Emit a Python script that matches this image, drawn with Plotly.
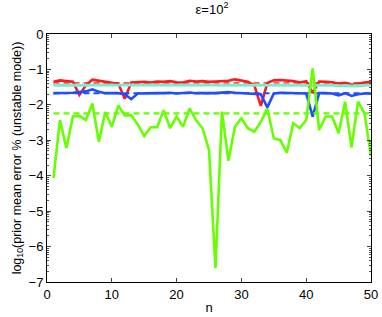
import numpy as np
import plotly.graph_objects as go

n = list(range(1, 51))

green = [-4.07, -2.43, -3.22, -2.33, -2.31, -2.43, -1.96, -3.04, -2.20, -2.62,
         -2.02, -2.30, -2.29, -2.55, -2.88, -2.63, -2.63, -2.15, -2.66, -2.33,
         -2.62, -2.10, -2.43, -2.66, -3.27, -6.61, -2.19, -3.58, -2.62, -2.38,
         -2.66, -2.76, -2.48, -2.10, -2.95, -2.99, -3.35, -2.52, -2.66, -2.43,
         -0.97, -2.71, -2.33, -2.33, -2.80, -1.91, -3.20, -1.91, -2.24, -3.45]

red = [-1.35, -1.31, -1.33, -1.35, -1.72, -1.45, -1.29, -1.32, -1.37, -1.38,
       -1.40, -1.83, -1.37, -1.36, -1.35, -1.37, -1.34, -1.35, -1.33, -1.36,
       -1.37, -1.32, -1.34, -1.33, -1.35, -1.34, -1.33, -1.32, -1.28, -1.31,
       -1.35, -1.45, -2.03, -1.38, -1.31, -1.30, -1.31, -1.33, -1.37, -1.33,
       -1.66, -1.34, -1.35, -1.36, -1.40, -1.38, -1.43, -1.39, -1.37, -1.35]

blue = [-1.67, -1.67, -1.68, -1.66, -1.64, -1.62, -1.56, -1.63, -1.67, -1.67,
        -1.67, -1.70, -1.84, -1.68, -1.67, -1.66, -1.67, -1.67, -1.66, -1.68,
        -1.67, -1.65, -1.67, -1.68, -1.67, -1.67, -1.66, -1.64, -1.66, -1.67,
        -1.68, -1.67, -1.70, -2.07, -1.68, -1.66, -1.66, -1.66, -1.66, -1.68,
        -2.33, -1.67, -1.67, -1.68, -1.73, -1.67, -1.75, -1.70, -1.68, -1.68]

cyan = [-1.45, -1.44, -1.44, -1.44, -1.45, -1.44, -1.43, -1.44, -1.44, -1.45,
        -1.44, -1.44, -1.44, -1.45, -1.44, -1.44, -1.44, -1.45, -1.44, -1.44,
        -1.44, -1.44, -1.44, -1.44, -1.44, -1.45, -1.44, -1.44, -1.43, -1.44,
        -1.44, -1.44, -1.45, -1.45, -1.44, -1.44, -1.44, -1.44, -1.44, -1.44,
        -1.45, -1.44, -1.44, -1.45, -1.46, -1.47, -1.46, -1.47, -1.45, -1.44]

mean_red = -1.38
mean_cyan = -1.44
mean_blue = -1.67
mean_green = -2.24

x_ticks = [0, 10, 20, 30, 40, 50]
y_ticks = [0, -1, -2, -3, -4, -5, -6, -7]
y_ticktext = ["0", "−1", "−2", "−3", "−4", "−5", "−6", "−7"]

C_RED = "#ff1a1a"
C_BLUE = "#1f4dff"
C_CYAN = "#70f0d0"
C_GREEN = "#66ff00"

fig = go.Figure()

def solid(y, c, w=2.6):
    fig.add_trace(go.Scatter(x=n, y=y, mode="lines", line=dict(color=c, width=w),
                             showlegend=False, hoverinfo="skip"))

def dashed(v, c, w=2.0):
    fig.add_trace(go.Scatter(x=[n[0], n[-1]], y=[v, v], mode="lines",
                             line=dict(color=c, width=w, dash="6px,4px"),
                             showlegend=False, hoverinfo="skip"))

solid(red, C_RED)
solid(cyan, C_CYAN, 2.8)
dashed(mean_cyan, C_CYAN, 1.5)
dashed(mean_red, C_RED, 1.2)
solid(blue, C_BLUE)
dashed(mean_blue, C_BLUE, 2.0)
solid(green, C_GREEN)
dashed(mean_green, C_GREEN, 2.4)

minor_y = [m + np.log10(k) for m in range(-7, 0) for k in range(2, 10)]

FAM = "Liberation Sans, Arial, sans-serif"

fig.update_layout(
    width=382, height=317,
    margin=dict(l=47, r=11, t=34, b=35, autoexpand=False),
    paper_bgcolor="white", plot_bgcolor="white",
    font=dict(family=FAM, size=13, color="black"),
    title=dict(text="ε=10<sup>2</sup>", x=0.555, xanchor="center", y=0.985, yanchor="top",
               font=dict(family=FAM, size=13, color="black")),
    xaxis=dict(range=[0, 50], tickvals=x_ticks, ticks="inside", ticklen=4,
               showline=True, linecolor="black", linewidth=1, mirror="ticks",
               showgrid=False, zeroline=False, automargin=False,
               title=dict(text="n", standoff=2, font=dict(size=13)),
               tickfont=dict(size=13)),
    yaxis=dict(range=[-7, 0], tickvals=y_ticks, ticktext=y_ticktext,
               ticks="inside", ticklen=4,
               showline=True, linecolor="black", linewidth=1, mirror="ticks",
               showgrid=False, zeroline=False, automargin=False,
               minor=dict(tickvals=minor_y, ticks="inside", ticklen=2, tickcolor="#555"),
               title=dict(text="log<sub>10</sub>(prior mean error % (unstable mode))", standoff=4,
                          font=dict(size=12.5)),
               tickfont=dict(size=13)),
)

fig.write_html("out.html", config={"displayModeBar": False, "staticPlot": True},
               post_script="document.body.style.margin='0';document.body.style.overflow='hidden';")
